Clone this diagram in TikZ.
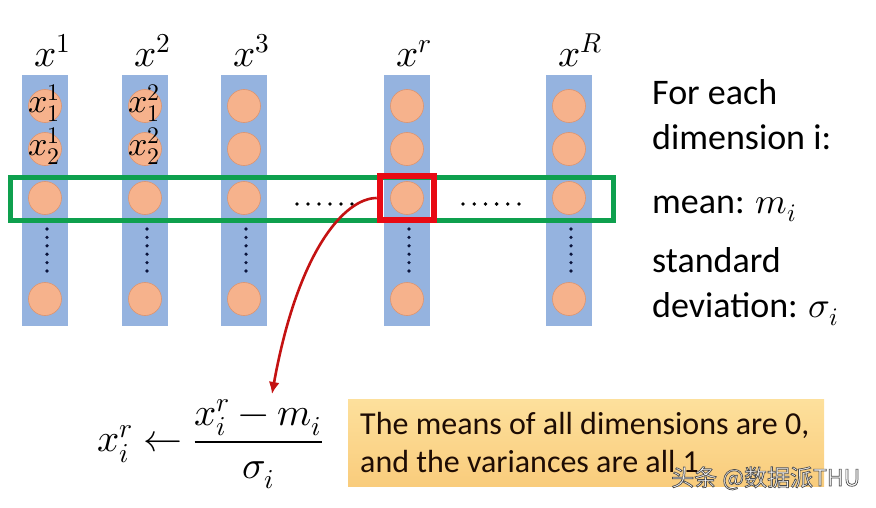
\documentclass[tikz,border=0pt]{standalone}
\usepackage{fontspec}
\usepackage{unicode-math}
\setmainfont{Carlito}
\setmathfont{Latin Modern Math}
\newfontfamily\cjk{Noto Sans CJK SC}
\usetikzlibrary{arrows.meta}
\definecolor{barblue}{RGB}{149,179,223}
\definecolor{featfill}{RGB}{246,178,140}
\definecolor{featline}{RGB}{222,148,110}
\definecolor{rowgreen}{RGB}{14,160,78}
\definecolor{pickred}{RGB}{232,10,20}
\definecolor{arrowred}{RGB}{196,18,18}
\definecolor{noteA}{RGB}{253,224,156}
\definecolor{noteB}{RGB}{249,204,124}
\definecolor{noteink}{RGB}{30,12,4}
\definecolor{inkdot}{RGB}{10,20,60}
\newcommand\outlined[1]{\special{pdf:literal direct 2 Tr 0.3 G 0.7 w}#1\special{pdf:literal direct 0 Tr}}
\tikzset{
  feat/.style={circle,fill=featfill,draw=featline,line width=.6pt,minimum size=33pt,inner sep=0pt},
  bar/.style={fill=barblue},
  mathlbl/.style={font=\fontsize{39}{42}\selectfont,inner sep=0pt},
  featlbl/.style={font=\fontsize{34}{36}\selectfont,inner sep=0pt,anchor=base west},
  side/.style={font=\fontsize{36}{40}\selectfont,anchor=base west,inner sep=0pt},
  notetext/.style={font=\fontsize{32}{37}\selectfont,anchor=base west,inner sep=0pt,text=noteink},
}
\begin{document}
\begin{tikzpicture}[x=1pt,y=-1pt]
\useasboundingbox (0,0) rectangle (876,508);
% columns of samples
\foreach \c/\cx/\s in {1/45/1,2/145/2,3/244/3,4/407/r,5/569/R}{
  \fill[bar] (\cx-23,75) rectangle (\cx+23,326);
  \node[mathlbl,anchor=base west] (top\c) at (\cx-11,67) {$x^{\s}$};
  \foreach \r/\ry in {1/106,2/149,3/198,4/299}
    \node[feat] (f\c\r) at (\cx,\ry) {};
  \foreach \k in {0,...,5}
    \fill[inkdot] (\cx+2,229+8.4*\k) circle (1.8pt);
}
\node[featlbl] (x11) at (f11.west) [yshift=-6.5pt] {$x_1^1$};
\node[featlbl] (x12) at (f12.west) [yshift=-6.5pt] {$x_2^1$};
\node[featlbl] (x21) at (f21.west) [yshift=-6.5pt] {$x_1^2$};
\node[featlbl] (x22) at (f22.west) [yshift=-6.5pt] {$x_2^2$};
% the same dimension over all samples
\draw[rowgreen,line width=5pt] (10,177.5) rectangle (613,220);
\foreach \k in {0,...,5}{
  \fill (297+11*\k,204) circle (1.9pt);
  \fill (463+11.2*\k,204) circle (1.9pt);
}
\node[draw=pickred,line width=6.5pt,minimum width=54pt,minimum height=44pt,inner sep=0pt] (pick) at (407,198) {};
% normalisation
\node[mathlbl,anchor=west] (rule) at (97,444) {$\displaystyle x_i^r \leftarrow \frac{x_i^r - m_i}{\sigma_i}$};
\coordinate (hit) at (272,394);
\draw[arrowred,line width=2.6pt,-{Latex[length=12pt,width=11pt]}] (pick.west) .. controls (345,198) and (298,250) .. (hit);
\node[side] (s1) at (652,105) {For each};
\node[side] (s2) at (652,150) {dimension i:};
\node[side] (s3) at (652,213) {mean: $m_i$};
\node[side] (s4) at (652,272) {standard};
\node[side] (s5) at (652,317) {deviation: $\sigma_i$};
\shade[top color=noteA,bottom color=noteB] (348,399) rectangle (824,486);
\node[notetext] (note1) at (360,434) {The means of all dimensions are 0,};
\node[notetext] (note2) at (360,472) {and the variances are all 1};
\node[anchor=base west,inner sep=0pt,text=white,font=\cjk\fontsize{23}{23}\selectfont] (mark) at (671,486) {\outlined{头条 @数据派THU}};
\end{tikzpicture}
\end{document}
